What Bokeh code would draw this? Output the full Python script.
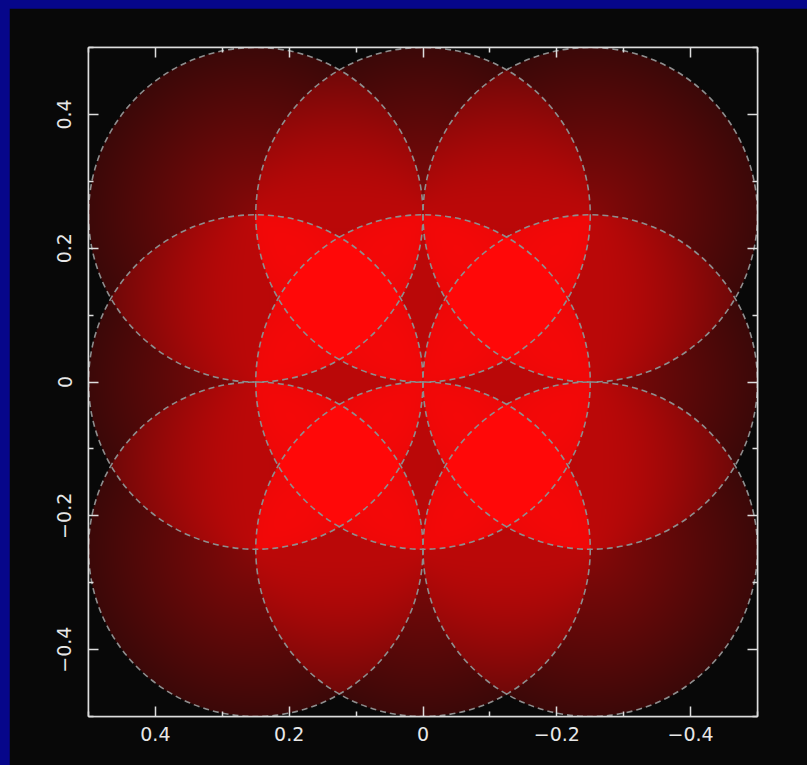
import numpy as np
from bokeh.plotting import figure
from bokeh.models import (Range1d, FixedTicker, LinearAxis, CustomJSTickFormatter,
                          ColumnDataSource)
from bokeh.layouts import column
from bokeh.embed import file_html
from bokeh.resources import INLINE

# Circle layout: a 3 x 3 grid of equal circles
circle_x = [0.25, 0.0, -0.25, 0.25, 0.0, -0.25, 0.25, 0.0, -0.25]
circle_y = [0.25, 0.25, 0.25, 0.0, 0.0, 0.0, -0.25, -0.25, -0.25]
circle_r = [0.25, 0.25, 0.25, 0.25, 0.25, 0.25, 0.25, 0.25, 0.25]

# Axis ticks
tick_values = [0.4, 0.2, 0.0, -0.2, -0.4]
tick_labels = ["0.4", "0.2", "0", "\u22120.2", "\u22120.4"]
minor_tick_values = [0.5, 0.3, 0.1, -0.1, -0.3, -0.5]

# Radial gradient levels (red channel) and the backdrop colour
CENTER_RED = 127
EDGE_RED = 52
BACKDROP = 8
FRAME_PX = 669

# Additive radial-gradient fill of all circles, sampled on a grid
n = FRAME_PX
step = 1.0 / n
gx = np.linspace(-0.5 + step / 2, 0.5 - step / 2, n)
gy = np.linspace(-0.5 + step / 2, 0.5 - step / 2, n)
XX, YY = np.meshgrid(gx, gy)
red = np.full(XX.shape, float(BACKDROP))
for cx, cy, r in zip(circle_x, circle_y, circle_r):
    d = np.hypot(XX - cx, YY - cy) / r
    inside = d < 1.0
    red[inside] += CENTER_RED - (CENTER_RED - EDGE_RED) * d[inside]
red = np.clip(red, 0, 255).astype(np.uint8)

img = np.empty((n, n), dtype=np.uint32)
view = img.view(dtype=np.uint8).reshape((n, n, 4))
view[:, :, 0] = red
view[:, :, 1] = BACKDROP
view[:, :, 2] = BACKDROP
view[:, :, 3] = 255

p = figure(frame_width=FRAME_PX, frame_height=FRAME_PX,
           x_range=Range1d(0.5, -0.5), y_range=Range1d(-0.5, 0.5),
           output_backend="svg", toolbar_location=None,
           min_border_left=79, min_border_right=50,
           min_border_top=39, min_border_bottom=49)
p.background_fill_color = "#080808"
p.border_fill_color = "#080808"
p.outline_line_color = "#dddddd"
p.outline_line_width = 1.5
p.xgrid.visible = False
p.ygrid.visible = False

p.image_rgba(image=[img], x=0, y=0, dw=1.0, dh=1.0, anchor="center")

src = ColumnDataSource(dict(x=circle_x, y=circle_y, r=circle_r))
p.circle(x="x", y="y", radius="r", source=src, fill_color=None,
         line_color="#8e8e8e", line_width=1.6, line_dash="6 4")

label_map = {v: s for v, s in zip(tick_values, tick_labels)}
blank = CustomJSTickFormatter(code="return ''")


def style_axis(ax, with_labels):
    ax.ticker = FixedTicker(ticks=tick_values, minor_ticks=minor_tick_values)
    ax.axis_line_color = "#dddddd"
    ax.axis_line_width = 1.5
    ax.major_tick_line_color = "#dddddd"
    ax.major_tick_line_width = 1.5
    ax.minor_tick_line_color = "#dddddd"
    ax.minor_tick_line_width = 1.5
    ax.major_tick_in = 10
    ax.major_tick_out = 0
    ax.minor_tick_in = 5
    ax.minor_tick_out = 0
    if with_labels:
        ax.major_label_overrides = label_map
        ax.major_label_text_color = "#e8e8e8"
        ax.major_label_text_font = "DejaVu Sans"
        ax.major_label_text_font_size = "19px"
    else:
        ax.formatter = blank


xa = p.xaxis[0]
ya = p.yaxis[0]
style_axis(xa, True)
style_axis(ya, True)
xa.major_label_standoff = 10
ya.major_label_standoff = 17
ya.major_label_orientation = "vertical"

top = LinearAxis()
right = LinearAxis()
style_axis(top, False)
style_axis(right, False)
p.add_layout(top, "above")
p.add_layout(right, "right")

p.margin = (8, 0, 0, 9)
page = column(p, styles={"background-color": "#06068a"})

open("out.html", "w").write(file_html(page, INLINE))
